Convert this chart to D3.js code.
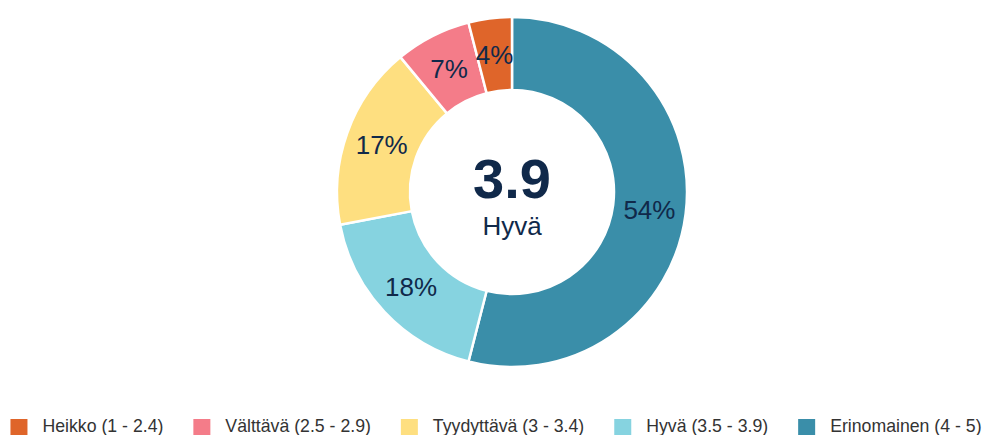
<!DOCTYPE html>
<html>
<head>
<meta charset="utf-8">
<script src="https://cdn.jsdelivr.net/npm/d3@7.9.0/dist/d3.min.js"></script>
<style>
  body { margin: 0; background: #fff; }
  svg { display: block; font-family: "Liberation Sans", Arial, sans-serif; }
</style>
</head>
<body>
<svg id="chart" width="987" height="435"></svg>
<script>
// data
const categories = ['Heikko (1 - 2.4)', 'Välttävä (2.5 - 2.9)', 'Tyydyttävä (3 - 3.4)', 'Hyvä (3.5 - 3.9)', 'Erinomainen (4 - 5)'];
const shares = [4, 7, 17, 18, 54];
const colors = ['#df652a', '#f47c89', '#fedf80', '#86d3e0', '#3a8ea9'];
const scoreValue = '3.9';
const scoreLabel = 'Hyvä';

const svg = d3.select('#chart');
const cx = 512, cy = 192;
const outerR = 175, innerR = 102;

// slices go clockwise from the top, starting with the last category
let order = d3.range(categories.length).reverse();
let pie = d3.pie().sort(null).value(i => shares[i]);
let arcData = pie(order);
let arcGenerator = d3.arc().innerRadius(innerR).outerRadius(outerR);
let color = d3.scaleOrdinal().domain(categories).range(colors);

const g = svg.append('g').attr('transform', `translate(${cx},${cy})`);

g.selectAll('path')
  .data(arcData)
  .join('path')
  .attr('d', arcGenerator)
  .attr('fill', d => color(categories[d.data]))
  .attr('stroke', '#fff')
  .attr('stroke-width', 2.5)
  .attr('stroke-linejoin', 'round');

g.selectAll('text.pct')
  .data(arcData)
  .join('text')
  .attr('class', 'pct')
  .attr('transform', d => `translate(${arcGenerator.centroid(d)})`)
  .attr('text-anchor', 'middle')
  .attr('dy', '0.36em')
  .attr('font-size', 26)
  .attr('fill', '#10294a')
  .text(d => shares[d.data] + '%');

g.append('text')
  .attr('x', 0).attr('y', 6)
  .attr('text-anchor', 'middle')
  .attr('font-size', 56)
  .attr('font-weight', 'bold')
  .attr('fill', '#10294a')
  .text(scoreValue);

g.append('text')
  .attr('x', 0).attr('y', 43)
  .attr('text-anchor', 'middle')
  .attr('font-size', 26)
  .attr('fill', '#10294a')
  .text(scoreLabel);

// legend, centred along the bottom
const legend = svg.append('g');
const items = legend.selectAll('g')
  .data(categories)
  .join('g');
items.append('rect')
  .attr('width', 17).attr('height', 17)
  .attr('y', 419)
  .attr('fill', d => color(d));
items.append('text')
  .attr('x', 32).attr('y', 432)
  .attr('font-size', 17.7)
  .attr('fill', '#333')
  .text(d => d);

let widths = [];
items.each(function () {
  widths.push(32 + d3.select(this).select('text').node().getComputedTextLength());
});
const gap = 30;
const total = d3.sum(widths) + gap * (widths.length - 1);
let x = 496 - total / 2;
items.each(function (d, i) {
  d3.select(this).attr('transform', `translate(${x},0)`);
  x += widths[i] + gap;
});
</script>
</body>
</html>
